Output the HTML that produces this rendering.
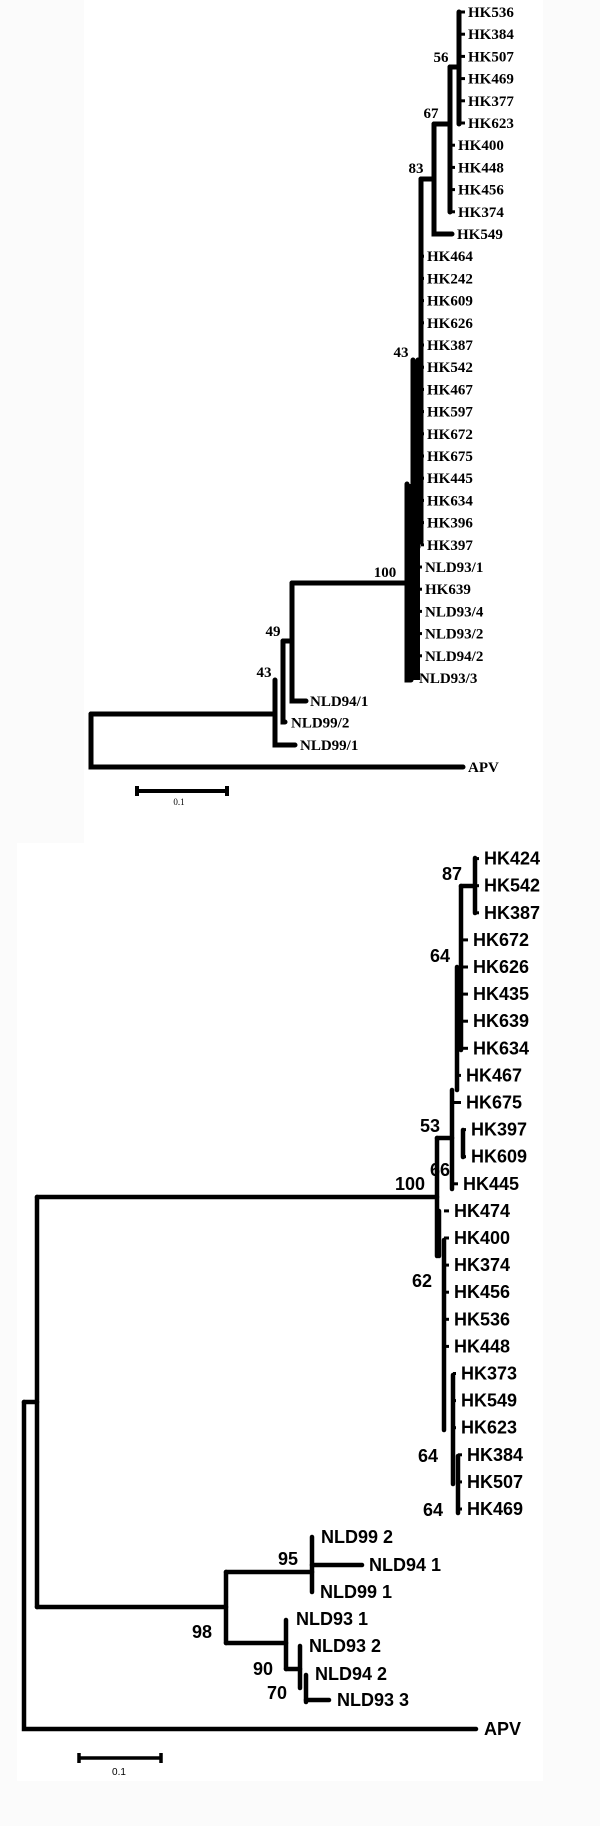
<!DOCTYPE html>
<html><head><meta charset="utf-8"><style>
html,body{margin:0;padding:0;background:#fbfbfb}
svg{display:block}
.ts{font-family:"Liberation Serif",serif;font-weight:bold;font-size:15px;fill:#000}
.bs{font-family:"Liberation Sans",sans-serif;font-weight:bold;font-size:18px;fill:#000}
</style></head><body>
<svg width="600" height="1826" viewBox="0 0 600 1826">
<rect x="84" y="0" width="459" height="843" fill="#fff"/>
<rect x="17" y="843" width="526" height="938" fill="#fff"/>
<g id="top"></g>
<g id="bot"></g>
</svg>
<script>
// Top tree data
const topLeaves = ["HK536","HK384","HK507","HK469","HK377","HK623","HK400","HK448","HK456","HK374","HK549","HK464","HK242","HK609","HK626","HK387","HK542","HK467","HK597","HK672","HK675","HK445","HK634","HK396","HK397","NLD93/1","HK639","NLD93/4","NLD93/2","NLD94/2","NLD93/3","NLD94/1","NLD99/2","NLD99/1","APV"];
const topLabelX = [468,468,468,468,468,468,458,458,458,458,457,427,427,427,427,427,427,427,427,427,427,427,427,427,427,425,425,425,425,425,419,310,291,300,468];
const topBoot = ["56","67","83","43","100","49","43"];
const topBootPos = [[441,57],[431,113],[416,168],[401,352],[385,572],[273,631],[264,672]];
// Bottom tree data
const botLeaves = ["HK424","HK542","HK387","HK672","HK626","HK435","HK639","HK634","HK467","HK675","HK397","HK609","HK445","HK474","HK400","HK374","HK456","HK536","HK448","HK373","HK549","HK623","HK384","HK507","HK469","NLD99 2","NLD94 1","NLD99 1","NLD93 1","NLD93 2","NLD94 2","NLD93 3","APV"];
const botLabelX = [484,484,484,473,473,473,473,473,466,466,471,471,463,454,454,454,454,454,454,461,461,461,467,467,467,321,369,320,296,309,315,337,484];
const botBoot = ["87","64","53","66","100","62","64","64","95","98","90","70"];
const botBootPos = [[452,874],[440,956],[430,1126],[440,1170],[410,1184],[422,1281],[428,1456],[433,1510],[288,1559],[202,1632],[263,1669],[277,1693]];

const NS="http://www.w3.org/2000/svg";
function mk(parent,tag,attrs){const e=document.createElementNS(NS,tag);for(const k in attrs)e.setAttribute(k,attrs[k]);parent.appendChild(e);return e;}
function rowTop(i){return i<31?12+i*22.2:[701,722.5,745,767][i-31];}
function rowBot(i){return i<25?858.6+i*27.1:[1537,1565,1592,1619,1646,1674,1700,1729][i-25];}

const gt=document.getElementById('top');
// top branches
const topPaths=["M91,714V767H463","M91,714H275","M275,680V745H295","M283,641V722H285","M283,641H292","M292,583V701H306","M292,583H407","M407,484V680H411","M413,360V547","M418,360V547","M421,179V542","M421,179H434","M434,124V234H452","M434,124H450","M450,67V212","M450,67H459","M459,12V124"];
topPaths.forEach(d=>{const p=mk(gt,'path',{d:d,stroke:'#000','stroke-width':5,fill:'none','stroke-linecap':'round'});

});
const tr=mk(gt,'rect',{x:406,y:484,width:14,height:196,fill:'#000'});


topLeaves.forEach((n,i)=>{const y=rowTop(i);
if(i<31){const dx=i<6?459:(i<10?450:(i<11?452:(i<25?421:418)));mk(gt,'path',{d:`M${dx},${y}H${topLabelX[i]-3}`,stroke:'#000','stroke-width':3});}
const t=mk(gt,'text',{x:topLabelX[i],y:y+5,class:'ts'});t.textContent=n;

});
topBoot.forEach((b,i)=>{const t=mk(gt,'text',{x:topBootPos[i][0],y:topBootPos[i][1]+5,class:'ts','text-anchor':'middle'});t.textContent=b;

});
const sb=mk(gt,'path',{d:'M137,791H227M137,786V796M227,786V796',stroke:'#000','stroke-width':4});


const st=mk(gt,'text',{x:179,y:805,'font-family':'Liberation Serif,serif','font-size':9,'text-anchor':'middle'});st.textContent='0.1';



const gb=document.getElementById('bot');
const botPaths=["M24,1402V1729H476","M24,1402H37","M37,1197V1607","M37,1197H437","M37,1607H226","M226,1572V1643","M226,1572H312","M312,1537V1592","M312,1565H362","M226,1643H286","M286,1620V1669","M286,1669H300","M300,1646V1688","M306,1675V1702","M306,1700H329","M437,1138V1256","M437,1138H452","M452,1090V1189","M457,967V1090","M461,967V1050","M461,886H475","M461,886V967","M475,858V913","M463,1130V1157","M439,1211V1256","M444,1240V1430","M453,1375V1484","M458,1456V1513"];
botPaths.forEach(d=>{const p=mk(gb,'path',{d:d,stroke:'#000','stroke-width':4.5,fill:'none','stroke-linecap':'round'});

});
const botDotX=[475,475,475,461,461,461,461,461,457,452,463,463,453,444,444,444,444,444,444,453,453,453,458,458,458];
botLeaves.forEach((n,i)=>{const y=rowBot(i);
if(i<25){mk(gb,'path',{d:`M${botDotX[i]},${y}H${botLabelX[i]-5}`,stroke:'#000','stroke-width':3});}
const t=mk(gb,'text',{x:botLabelX[i],y:y+6,class:'bs'});t.textContent=n;

});
botBoot.forEach((b,i)=>{const t=mk(gb,'text',{x:botBootPos[i][0],y:botBootPos[i][1]+6,class:'bs','text-anchor':'middle'});t.textContent=b;

});
const sb2=mk(gb,'path',{d:'M79,1758H161M79,1753V1763M161,1753V1763',stroke:'#000','stroke-width':3.5});


const st2=mk(gb,'text',{x:119,y:1775,'font-family':'Liberation Sans,sans-serif','font-size':10,'text-anchor':'middle'});st2.textContent='0.1';


</script>
</body></html>
